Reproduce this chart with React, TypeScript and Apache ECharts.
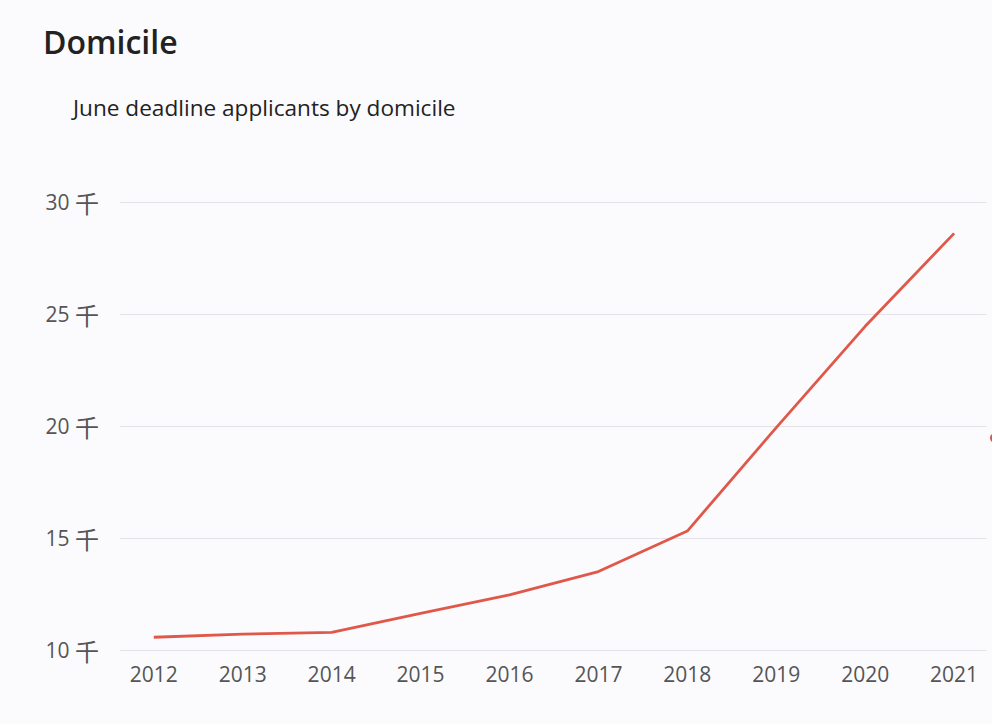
import React, { useEffect, useRef } from "react";
import * as echarts from "echarts";

const years = [2012, 2013, 2014, 2015, 2016, 2017, 2018, 2019, 2020, 2021];
const applicants = [10570, 10710, 10790, 11640, 12460, 13500, 15310, 19930, 24450, 28600];
const yTicks = [10000, 15000, 20000, 25000, 30000];

const titleText = "Domicile";
const subtitleText = "June deadline applicants by domicile";

export default function App() {
  const ref = useRef<HTMLDivElement>(null);
  useEffect(() => {
    if (!ref.current) return;
    const chart = echarts.init(ref.current, undefined, { renderer: "svg" });
    const font = "'Open Sans', 'Noto Sans', 'Noto Sans CJK SC', sans-serif";
    chart.setOption({
      animation: false,
      backgroundColor: "#fbfbfd",
      title: [
        {
          text: titleText,
          left: 43,
          top: 25,
          padding: 0,
          textStyle: { fontFamily: font, fontSize: 32, fontWeight: 600, color: "#222" },
        },
        {
          text: subtitleText,
          left: 73,
          top: 96,
          padding: 0,
          textStyle: { fontFamily: font, fontSize: 22.6, fontWeight: 500, color: "#222" },
        },
      ],
      grid: { left: 120, right: 5, top: 202, bottom: 74, containLabel: false },
      xAxis: {
        type: "value",
        min: 2011.62,
        max: 2021.37,
        axisLine: { show: false },
        axisTick: { show: false },
        splitLine: { show: false },
        axisLabel: {
          customValues: years,
          formatter: (v: number) => String(Math.round(v)),
          margin: 13,
          fontFamily: font,
          fontSize: 21,
          color: "#555",
        },
      },
      yAxis: {
        type: "value",
        min: yTicks[0],
        max: yTicks[yTicks.length - 1],
        interval: 5000,
        axisLine: { show: false },
        axisTick: { show: false },
        splitLine: { show: true, lineStyle: { color: "#e4e4e8", width: 1 } },
        axisLabel: {
          formatter: (v: number) => `{n|${v / 1000}} {k|千}`,
          margin: 21,
          fontFamily: font,
          fontSize: 21,
          color: "#555",
          rich: {
            n: { fontFamily: font, fontSize: 21, color: "#555" },
            k: { fontFamily: "'Noto Sans CJK SC', sans-serif", fontSize: 24, color: "#555" },
          },
        },
      },
      series: [
        {
          type: "line",
          data: years.map((y, i) => [y, applicants[i]]),
          showSymbol: false,
          lineStyle: { color: "#e0584a", width: 2.8 },
          itemStyle: { color: "#e0584a" },
        },
      ],
      graphic: [
        {
          type: "circle",
          shape: { cx: 995, cy: 438, r: 5 },
          style: { fill: "#d9564a" },
        },
      ],
    });
    return () => chart.dispose();
  }, []);
  return (
    <div
      ref={ref}
      style={{ position: "fixed", left: 0, top: 0, width: 992, height: 724 }}
    />
  );
}
